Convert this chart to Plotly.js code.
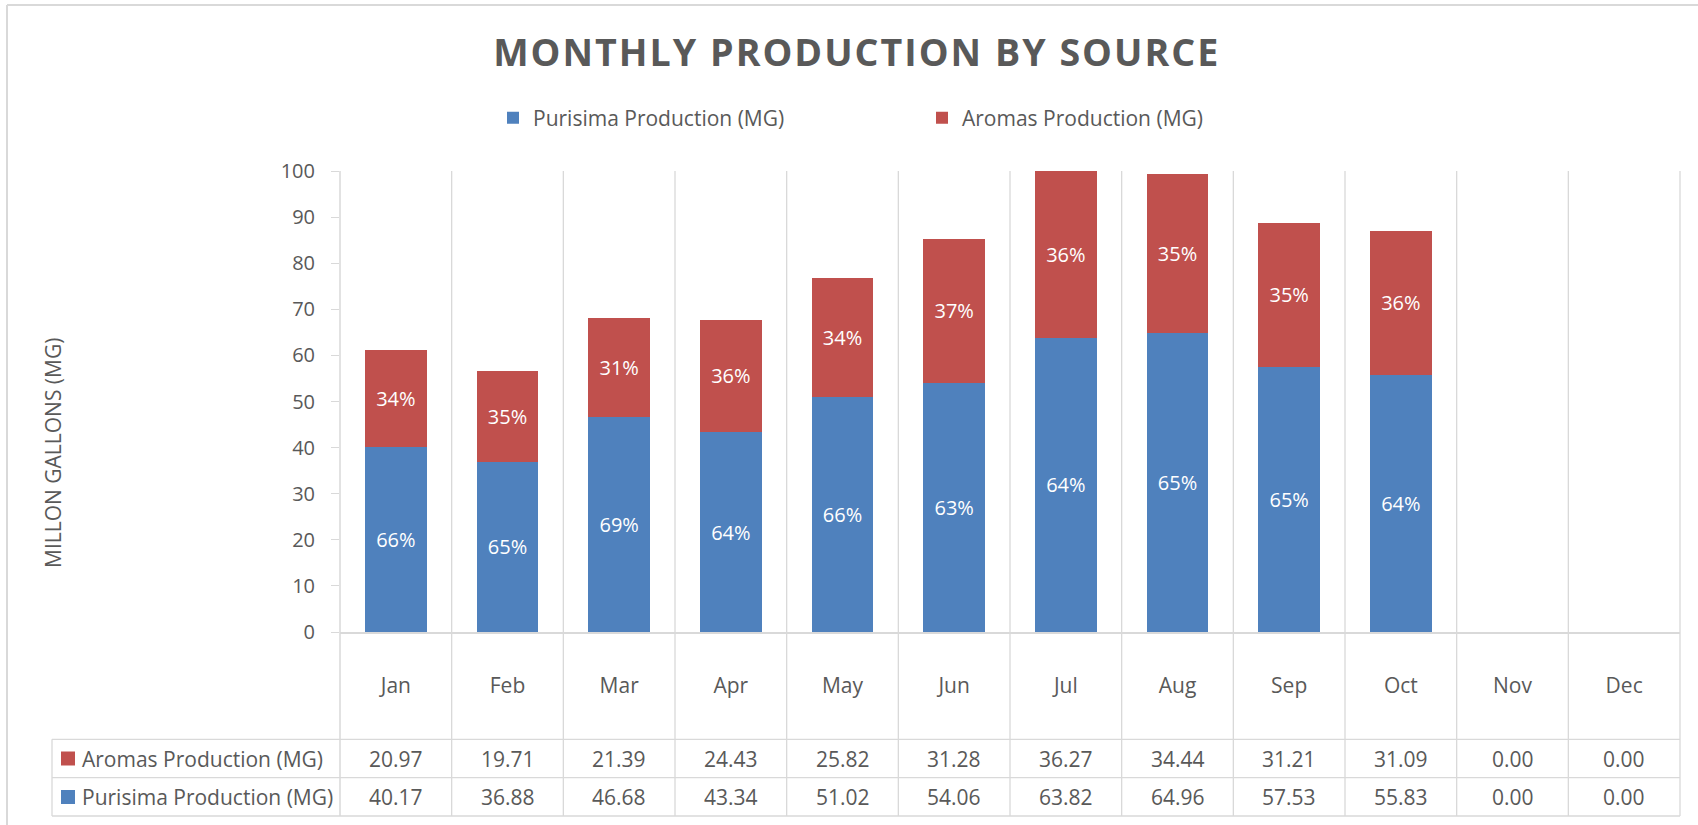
<!DOCTYPE html>
<html>
<head>
<meta charset="utf-8">
<script src="https://cdn.plot.ly/plotly-3.0.1.min.js"></script>
<style>
html, body { margin: 0; padding: 0; background: #ffffff; }
#chart { width: 1698px; height: 825px; }
.gtitle { letter-spacing: 2px; }
</style>
</head>
<body>
<div id="chart"></div>
<script>
// ---- data ----
const months = ['Jan', 'Feb', 'Mar', 'Apr', 'May', 'Jun', 'Jul', 'Aug', 'Sep', 'Oct', 'Nov', 'Dec'];
const purisima = [40.17, 36.88, 46.68, 43.34, 51.02, 54.06, 63.82, 64.96, 57.53, 55.83, 0.00, 0.00];
const aromas = [20.97, 19.71, 21.39, 24.43, 25.82, 31.28, 36.27, 34.44, 31.21, 31.09, 0.00, 0.00];
const purisimaName = 'Purisima Production (MG)';
const aromasName = 'Aromas Production (MG)';
const yTicks = [0, 10, 20, 30, 40, 50, 60, 70, 80, 90, 100];
const chartTitle = 'MONTHLY PRODUCTION BY SOURCE';
const yTitle = 'MILLON GALLONS (MG)';

// ---- layout geometry (px) ----
const W = 1698, H = 825;
const PL = 340, PR = 1680, PT = 171, PB = 632;
const px2x = p => (p - PL) / (PR - PL);
const py2y = p => (PB - p) / (PB - PT);

const BLUE = '#4F81BD', RED = '#C0504D', TXT = '#595959', GRID = '#D9D9D9';
const FONT = '"Open Sans", "Noto Sans", sans-serif';

const totals = months.map((m, i) => purisima[i] + aromas[i]);
const pct = (arr) => arr.map((v, i) => totals[i] > 0 ? Math.round(v / totals[i] * 100) + '%' : '');

const barCommon = {
  type: 'bar',
  x: months,
  textposition: 'inside',
  insidetextanchor: 'middle',
  textangle: 0,
  textfont: { family: FONT, size: 20, color: '#ffffff' },
  hoverinfo: 'x+y+name'
};

const traces = [
  Object.assign({}, barCommon, { y: purisima, name: purisimaName, text: pct(purisima), marker: { color: BLUE } }),
  Object.assign({}, barCommon, { y: aromas, name: aromasName, text: pct(aromas), marker: { color: RED } })
];

// ---- shapes: category gridlines extending through data table, table borders, frame ----
const shapes = [];
const line = (xref, x0, x1, yref, y0, y1, w) => ({
  type: 'line', layer: 'below', xref: xref, yref: yref, x0: x0, x1: x1, y0: y0, y1: y1,
  line: { color: GRID, width: w || 1.3 }
});
const tableBottom = py2y(816);
for (let i = 0; i <= months.length; i++) {
  if (i === 0) shapes.push(line('paper', 0, 0, 'paper', tableBottom, 1, 1.5));
  else if (i === months.length) shapes.push(line('paper', 1, 1, 'paper', tableBottom, 1));
  else shapes.push(line('x', i - 0.5, i - 0.5, 'paper', tableBottom, 1));
}
[739.3, 777.7, 816].forEach(py => shapes.push(line('paper', px2x(52), 1, 'paper', py2y(py), py2y(py))));
shapes.push(line('paper', px2x(52), px2x(52), 'paper', py2y(739.3), tableBottom));
// outer chart frame
shapes.push(line('paper', px2x(7), px2x(W), 'paper', py2y(5), py2y(5), 2));
shapes.push(line('paper', px2x(7), px2x(7), 'paper', py2y(5), py2y(H), 2));
// legend keys inside data table
const rowY = [758.5, 797];
[[RED, rowY[0]], [BLUE, rowY[1]]].forEach(([c, cy]) => shapes.push({
  type: 'rect', xref: 'paper', yref: 'paper', layer: 'above',
  x0: px2x(61), x1: px2x(75), y0: py2y(cy + 7), y1: py2y(cy - 7),
  fillcolor: c, line: { width: 0 }
}));

// ---- annotations: data table cells + y axis title ----
const annotations = [];
const cell = (x, xref, y, text, xanchor) => ({
  x: x, xref: xref, y: y, yref: 'paper', text: text, showarrow: false,
  xanchor: xanchor || 'center', yanchor: 'middle',
  font: { family: FONT, size: 21, color: TXT }
});
annotations.push(cell(px2x(80), 'paper', py2y(rowY[0]), aromasName, 'left'));
annotations.push(cell(px2x(80), 'paper', py2y(rowY[1]), purisimaName, 'left'));
months.forEach((m, i) => {
  annotations.push(cell(i, 'x', py2y(rowY[0]), aromas[i].toFixed(2)));
  annotations.push(cell(i, 'x', py2y(rowY[1]), purisima[i].toFixed(2)));
});
annotations.push({
  x: px2x(53), xref: 'paper', y: py2y(453), yref: 'paper', text: yTitle, showarrow: false,
  textangle: -90, xanchor: 'center', yanchor: 'middle',
  font: { family: FONT, size: 21, color: TXT }
});

const layout = {
  width: W, height: H,
  margin: { l: PL, r: W - PR, t: PT, b: H - PB, pad: 0 },
  paper_bgcolor: '#ffffff', plot_bgcolor: '#ffffff',
  font: { family: FONT, color: TXT },
  title: {
    text: chartTitle,
    font: { family: FONT, size: 37.6, color: TXT, weight: 700 },
    xref: 'container', x: 856.7 / W, xanchor: 'center',
    yref: 'container', y: 1 - 52.5 / H, yanchor: 'middle'
  },
  barmode: 'stack',
  bargap: 0.445,
  showlegend: true,
  legend: {
    orientation: 'h', traceorder: 'normal',
    x: px2x(493), xanchor: 'left', y: py2y(118), yanchor: 'middle',
    font: { family: FONT, size: 21, color: TXT },
    entrywidth: 384, entrywidthmode: 'pixels',
    bgcolor: 'rgba(0,0,0,0)'
  },
  xaxis: {
    type: 'category', range: [-0.5, months.length - 0.5],
    showgrid: false, zeroline: false,
    showline: true, linecolor: GRID, linewidth: 1.5,
    ticks: '', ticklabelstandoff: 34,
    tickfont: { family: FONT, size: 21, color: TXT },
    automargin: false, fixedrange: true
  },
  yaxis: {
    range: [0, 100], tickmode: 'array', tickvals: yTicks, ticktext: yTicks.map(String),
    showgrid: false, zeroline: false, showline: false,
    ticks: 'outside', ticklen: 8, tickwidth: 1.3, tickcolor: GRID,
    ticklabelstandoff: 12,
    tickfont: { family: FONT, size: 20, color: TXT },
    automargin: false, fixedrange: true
  },
  shapes: shapes,
  annotations: annotations
};

Plotly.newPlot('chart', traces, layout, { displayModeBar: false, responsive: false });
</script>
</body>
</html>
